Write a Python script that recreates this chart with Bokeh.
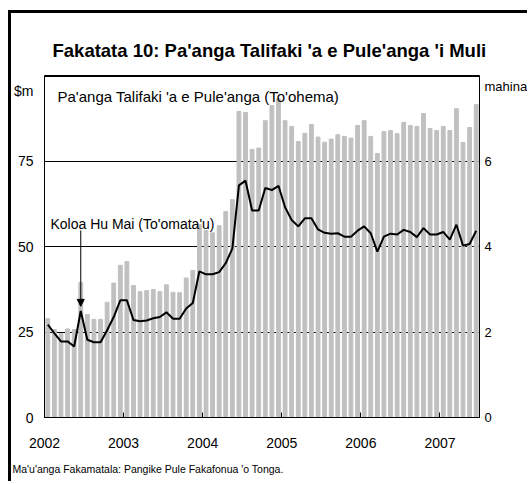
from bokeh.plotting import figure
from bokeh.models import (Range1d, LinearAxis, FixedTicker, Label, Arrow,
                          NormalHead, Title)
from bokeh.embed import file_html
from bokeh.resources import INLINE

# ---- data ----
months = list(range(66))  # Jan 2002 .. Jun 2007
reserves = [28.9, 25.7, 24.5, 25.9, 25.7, 39.5, 30.1, 28.7, 28.7, 33.7, 39.3, 44.5,
            45.6, 38.6, 36.8, 37.1, 37.4, 36.8, 38.8, 36.6, 36.5, 40.8, 43.0, 56.4,
            54.7, 54.0, 56.1, 60.2, 63.7, 89.5, 89.2, 78.4, 78.8, 86.8, 91.2, 93.2,
            86.8, 85.1, 80.7, 83.1, 85.7, 82.0, 80.5, 81.4, 82.7, 82.2, 81.7, 85.4,
            86.8, 82.2, 77.2, 83.6, 83.9, 83.0, 86.3, 85.4, 85.1, 88.9, 84.5, 83.9,
            85.1, 83.9, 90.3, 80.4, 84.8, 91.5]
import_cover = [2.17, 1.97, 1.78, 1.78, 1.66, 2.49, 1.82, 1.76, 1.76, 2.04, 2.35, 2.74,
                2.74, 2.28, 2.25, 2.27, 2.32, 2.35, 2.46, 2.31, 2.31, 2.55, 2.68, 3.42,
                3.35, 3.35, 3.40, 3.61, 3.95, 5.43, 5.54, 4.84, 4.84, 5.37, 5.32, 5.42,
                4.92, 4.62, 4.47, 4.66, 4.66, 4.40, 4.32, 4.30, 4.31, 4.23, 4.23, 4.37,
                4.47, 4.31, 3.88, 4.23, 4.30, 4.28, 4.39, 4.34, 4.22, 4.43, 4.28, 4.28,
                4.34, 4.16, 4.51, 4.02, 4.06, 4.37]
year_ticks = [0, 12, 24, 36, 48, 60]
year_labels = ["2002", "2003", "2004", "2005", "2006", "2007"]
left_ticks = [0, 25, 50, 75]
left_unit_pos = 95.6
right_ticks = [0, 2, 4, 6]
right_unit_pos = 7.74

FONT = "Liberation Sans"
x = [m + 0.5 for m in months]

p = figure(width=519, height=471, output_backend="svg", toolbar_location=None,
           x_range=Range1d(0, 66), y_range=Range1d(0, 100),
           min_border_left=33, min_border_right=50, min_border_top=62,
           min_border_bottom=67)
p.styles = {"margin-left": "8px", "margin-top": "10px",
            "border-left": "3px solid black", "border-top": "3px solid black"}
p.extra_y_ranges = {"mo": Range1d(0, 8)}
p.background_fill_color = "white"
p.border_fill_color = "white"
p.outline_line_color = "black"
p.outline_line_alpha = 1
p.outline_line_width = 1

p.title = Title(text="Fakatata 10: Pa'anga Talifaki 'a e Pule'anga 'i Muli",
                text_font=FONT, text_font_size="18.5px", text_font_style="bold",
                text_color="black", align="left", offset=8, standoff=30)

p.vbar(x=x, top=reserves, width=0.58, color="#c0c0c0")
p.line(x, import_cover, y_range_name="mo", line_color="black", line_width=2)

# top edge of the plot frame
p.hspan(y=[99.8], line_color="black", line_width=1)

p.xgrid.visible = False
p.ygrid.ticker = FixedTicker(ticks=[25, 50, 75])
p.ygrid.grid_line_color = "black"
p.ygrid.grid_line_alpha = 1
p.ygrid.grid_line_width = 1

ya = p.left[0]
ya.ticker = FixedTicker(ticks=left_ticks + [left_unit_pos])
ya.major_label_overrides = {left_unit_pos: "$m"}
ya.major_label_standoff = 11
ya.major_label_text_font_size = "14px"

xa = p.below[0]
xa.ticker = FixedTicker(ticks=year_ticks)
xa.major_label_overrides = {t: l for t, l in zip(year_ticks, year_labels)}
xa.major_tick_in = 5
xa.major_tick_out = 0
xa.major_label_standoff = 20
xa.major_label_text_font_size = "14px"

ra = LinearAxis(y_range_name="mo", ticker=FixedTicker(ticks=right_ticks + [right_unit_pos]))
ra.major_label_overrides = {right_unit_pos: "mahina"}
ra.major_label_standoff = 5
ra.major_label_text_font_size = "13px"
p.add_layout(ra, "right")

for ax in (ya, ra):
    ax.major_tick_in = 0
    ax.major_tick_out = 0
for ax in (ya, ra, xa):
    ax.minor_tick_in = 0
    ax.minor_tick_out = 0
    ax.major_label_text_font = FONT
    ax.major_label_text_color = "black"
    ax.axis_line_color = "black"
    ax.major_tick_line_color = "black"

p.add_layout(Title(text="Ma'u'anga Fakamatala: Pangike Pule Fakafonua 'o Tonga.",
                   text_font=FONT, text_font_size="10.5px", text_font_style="normal",
                   text_color="black", align="left", offset=-32, standoff=20),
             "below")

def lab(xv, yv, text, size):
    p.add_layout(Label(x=xv, y=yv, text=text, text_font=FONT, text_font_size=size,
                       text_align="left", text_baseline="alphabetic",
                       text_color="black"))

lab(1.97, 93.9, "Pa'anga Talifaki 'a e Pule'anga (To'ohema)", "15px")
lab(0.9, 56.7, "Koloa Hu Mai (To'omata'u)", "14px")

p.add_layout(Arrow(end=NormalHead(size=7, fill_color="black", line_color="black"),
                   x_start=5.5, y_start=54.7, x_end=5.5, y_end=32.5,
                   line_width=1, line_color="black"))

open("out.html", "w").write(file_html(p, INLINE))
